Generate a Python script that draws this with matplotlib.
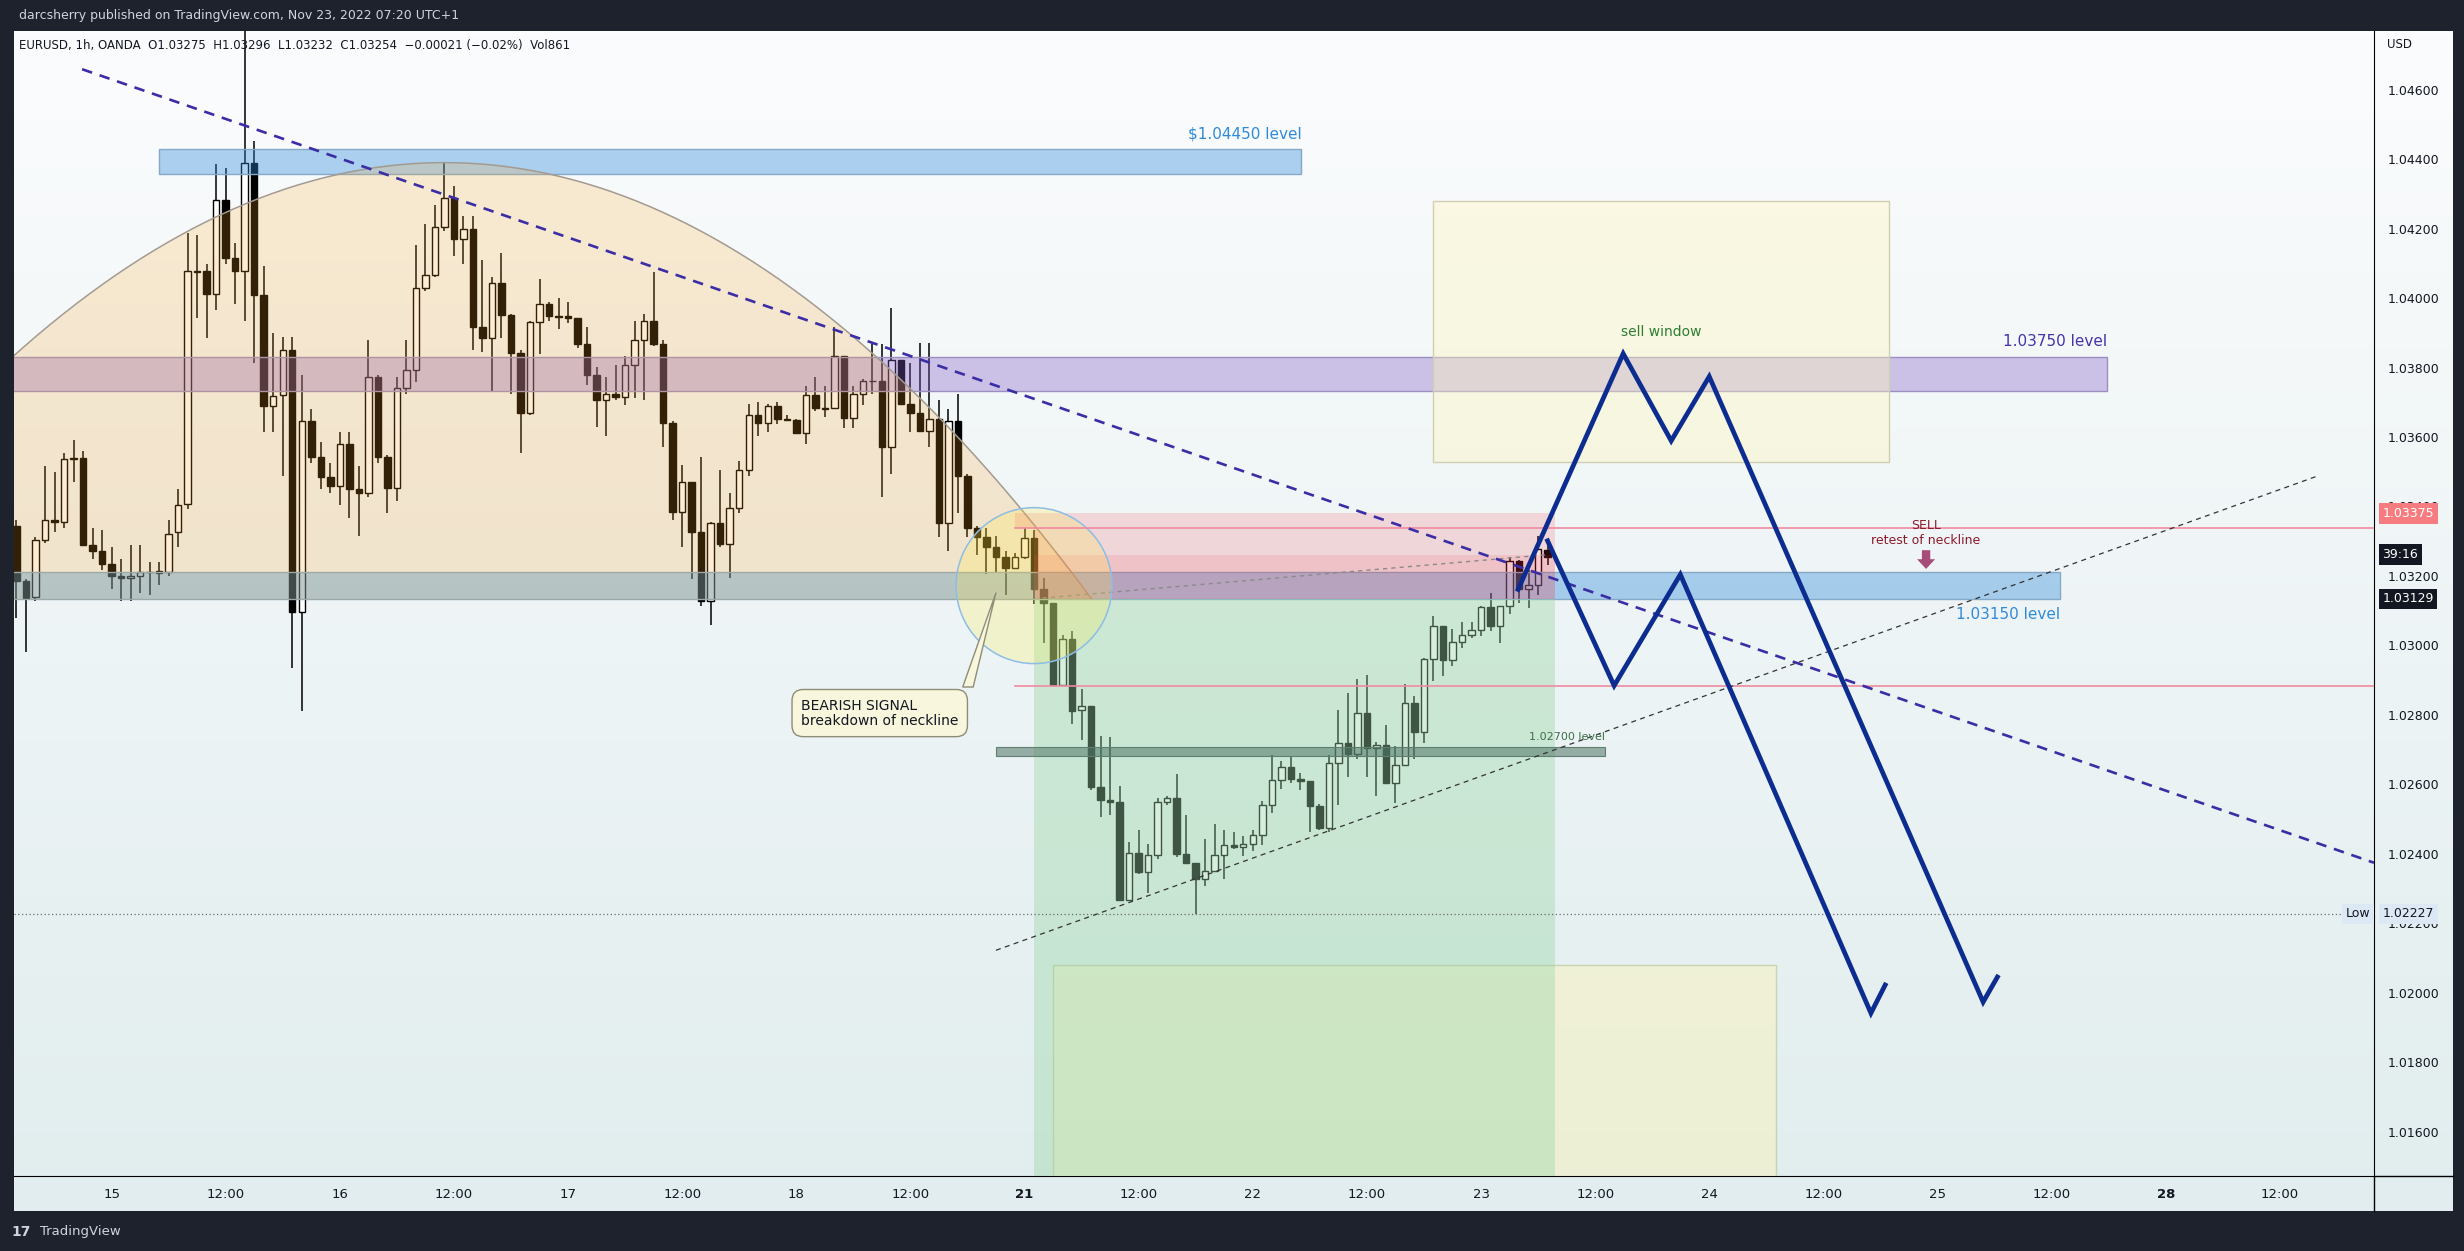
import matplotlib.pyplot as plt
import matplotlib.patches as mpatches
from matplotlib.lines import Line2D
import numpy as np

W, H = 2464, 1251

# EURUSD 1h candles, x = bar number (hours since Nov 15 00:00, weekend removed)
first_bar = -10
opens = [1.03344, 1.03184, 1.03138, 1.03303, 1.03360, 1.03355, 1.03537, 1.03539, 1.03289, 1.03272,
         1.03234, 1.03201, 1.03193, 1.03201, 1.03212, 1.03208, 1.03212, 1.03325, 1.03407, 1.04078,
         1.04078, 1.04012, 1.04283, 1.04115, 1.04078, 1.04390, 1.04008, 1.03689, 1.03722, 1.03850,
         1.03096, 1.03645, 1.03542, 1.03484, 1.03460, 1.03579, 1.03449, 1.03440, 1.03773, 1.03542,
         1.03454, 1.03740, 1.03792, 1.04030, 1.04065, 1.04206, 1.04288, 1.04170, 1.04200, 1.03917,
         1.03886, 1.04043, 1.03950, 1.03843, 1.03669, 1.03931, 1.03983, 1.03947, 1.03947, 1.03942,
         1.03869, 1.03779, 1.03707, 1.03724, 1.03715, 1.03806, 1.03880, 1.03933, 1.03867, 1.03641,
         1.03385, 1.03471, 1.03327, 1.03129, 1.03352, 1.03292, 1.03396, 1.03504, 1.03663, 1.03641,
         1.03689, 1.03652, 1.03649, 1.03612, 1.03722, 1.03682, 1.03682, 1.03832, 1.03656, 1.03724,
         1.03762, 1.03762, 1.03572, 1.03821, 1.03696, 1.03669, 1.03616, 1.03652, 1.03352, 1.03645,
         1.03487, 1.03338, 1.03311, 1.03283, 1.03255, 1.03224, 1.03255, 1.03310, 1.03162, 1.03121,
         1.02886, 1.03017, 1.02815, 1.02826, 1.02592, 1.02554, 1.02548, 1.02268, 1.02402, 1.02347,
         1.02396, 1.02548, 1.02561, 1.02398, 1.02372, 1.02328, 1.02350, 1.02396, 1.02424, 1.02418,
         1.02429, 1.02454, 1.02539, 1.02611, 1.02650, 1.02614, 1.02608, 1.02537, 1.02473, 1.02661,
         1.02718, 1.02688, 1.02804, 1.02705, 1.02713, 1.02605, 1.02655, 1.02835, 1.02751, 1.02960,
         1.03055, 1.02958, 1.03011, 1.03029, 1.03044, 1.03110, 1.03057, 1.03112, 1.03242, 1.03162,
         1.03173, 1.03275]
highs = [1.03360, 1.03190, 1.03311, 1.03515, 1.03498, 1.03553, 1.03592, 1.03559, 1.03338, 1.03333,
         1.03283, 1.03250, 1.03289, 1.03289, 1.03239, 1.03239, 1.03360, 1.03449, 1.04186, 1.04181,
         1.04098, 1.04385, 1.04374, 1.04159, 1.04800, 1.04451, 1.04093, 1.03900, 1.03889, 1.03889,
         1.03779, 1.03680, 1.03586, 1.03526, 1.03614, 1.03614, 1.03515, 1.03878, 1.03779, 1.03548,
         1.03773, 1.03878, 1.04153, 1.04214, 1.04269, 1.04390, 1.04324, 1.04236, 1.04236, 1.04109,
         1.04060, 1.04131, 1.03955, 1.03850, 1.03933, 1.04054, 1.03988, 1.03999, 1.03988, 1.03944,
         1.03917, 1.03801, 1.03773, 1.03806, 1.03834, 1.03933, 1.03955, 1.04076, 1.03878, 1.03647,
         1.03520, 1.03471, 1.03542, 1.03356, 1.03504, 1.03438, 1.03531, 1.03696, 1.03702, 1.03696,
         1.03702, 1.03663, 1.03652, 1.03746, 1.03773, 1.03746, 1.03917, 1.03834, 1.03746, 1.03768,
         1.03867, 1.03867, 1.03972, 1.03823, 1.03812, 1.03872, 1.03872, 1.03707, 1.03680, 1.03724,
         1.03493, 1.03344, 1.03338, 1.03316, 1.03272, 1.03266, 1.03338, 1.03332, 1.03195, 1.03123,
         1.03029, 1.03040, 1.02875, 1.02826, 1.02740, 1.02736, 1.02594, 1.02435, 1.02468, 1.02429,
         1.02561, 1.02567, 1.02630, 1.02512, 1.02374, 1.02443, 1.02487, 1.02468, 1.02462, 1.02451,
         1.02468, 1.02553, 1.02685, 1.02666, 1.02680, 1.02633, 1.02608, 1.02542, 1.02683, 1.02815,
         1.02864, 1.02903, 1.02914, 1.02721, 1.02771, 1.02710, 1.02890, 1.02853, 1.02963, 1.03085,
         1.03057, 1.03046, 1.03068, 1.03066, 1.03112, 1.03151, 1.03112, 1.03253, 1.03246, 1.03217,
         1.03316, 1.03296]
lows = [1.03080, 1.02980, 1.03129, 1.03294, 1.03327, 1.03338, 1.03471, 1.03289, 1.03250, 1.03217,
        1.03162, 1.03129, 1.03129, 1.03151, 1.03146, 1.03173, 1.03201, 1.03283, 1.03393, 1.03944,
        1.03884, 1.03966, 1.04098, 1.03983, 1.03933, 1.03812, 1.03614, 1.03614, 1.03487, 1.02936,
        1.02810, 1.03526, 1.03449, 1.03438, 1.03404, 1.03366, 1.03316, 1.03427, 1.03526, 1.03382,
        1.03416, 1.03724, 1.03757, 1.04021, 1.04060, 1.04192, 1.04120, 1.04098, 1.03850, 1.03845,
        1.03729, 1.03884, 1.03724, 1.03553, 1.03663, 1.03839, 1.03933, 1.03911, 1.03928, 1.03856,
        1.03751, 1.03630, 1.03603, 1.03707, 1.03691, 1.03713, 1.03707, 1.03862, 1.03570, 1.03360,
        1.03283, 1.03190, 1.03113, 1.03058, 1.03283, 1.03195, 1.03382, 1.03487, 1.03603, 1.03614,
        1.03636, 1.03647, 1.03608, 1.03581, 1.03674, 1.03658, 1.03680, 1.03625, 1.03625, 1.03691,
        1.03724, 1.03427, 1.03493, 1.03691, 1.03614, 1.03614, 1.03570, 1.03311, 1.03272, 1.03382,
        1.03311, 1.03261, 1.03206, 1.03211, 1.03145, 1.03222, 1.03250, 1.03118, 1.03007, 1.02886,
        1.02886, 1.02773, 1.02727, 1.02584, 1.02506, 1.02512, 1.02264, 1.02264, 1.02341, 1.02286,
        1.02385, 1.02539, 1.02391, 1.02369, 1.02227, 1.02306, 1.02347, 1.02328, 1.02413, 1.02394,
        1.02407, 1.02424, 1.02517, 1.02586, 1.02605, 1.02583, 1.02462, 1.02468, 1.02462, 1.02539,
        1.02622, 1.02672, 1.02622, 1.02567, 1.02600, 1.02545, 1.02655, 1.02672, 1.02718, 1.02897,
        1.02912, 1.02941, 1.02991, 1.03022, 1.03026, 1.03040, 1.03007, 1.03090, 1.03123, 1.03107,
        1.03145, 1.03232]
closes = [1.03184, 1.03135, 1.03303, 1.03360, 1.03355, 1.03537, 1.03539, 1.03289, 1.03272, 1.03234,
          1.03201, 1.03193, 1.03201, 1.03212, 1.03210, 1.03215, 1.03322, 1.03404, 1.04078, 1.04076,
          1.04012, 1.04283, 1.04115, 1.04078, 1.04390, 1.04008, 1.03689, 1.03718, 1.03850, 1.03096,
          1.03645, 1.03542, 1.03484, 1.03460, 1.03579, 1.03449, 1.03440, 1.03773, 1.03542, 1.03454,
          1.03740, 1.03792, 1.04030, 1.04065, 1.04206, 1.04288, 1.04170, 1.04200, 1.03917, 1.03886,
          1.04043, 1.03950, 1.03843, 1.03669, 1.03931, 1.03983, 1.03947, 1.03945, 1.03942, 1.03869,
          1.03779, 1.03707, 1.03724, 1.03715, 1.03806, 1.03880, 1.03933, 1.03867, 1.03641, 1.03385,
          1.03471, 1.03327, 1.03129, 1.03352, 1.03292, 1.03396, 1.03504, 1.03663, 1.03641, 1.03689,
          1.03652, 1.03649, 1.03612, 1.03722, 1.03682, 1.03680, 1.03832, 1.03656, 1.03724, 1.03762,
          1.03760, 1.03572, 1.03821, 1.03696, 1.03669, 1.03616, 1.03652, 1.03352, 1.03645, 1.03487,
          1.03338, 1.03311, 1.03283, 1.03255, 1.03224, 1.03253, 1.03310, 1.03162, 1.03123, 1.02886,
          1.03017, 1.02812, 1.02826, 1.02592, 1.02554, 1.02548, 1.02268, 1.02402, 1.02347, 1.02396,
          1.02548, 1.02561, 1.02398, 1.02372, 1.02328, 1.02350, 1.02396, 1.02424, 1.02418, 1.02429,
          1.02454, 1.02539, 1.02611, 1.02650, 1.02614, 1.02608, 1.02537, 1.02473, 1.02661, 1.02718,
          1.02688, 1.02804, 1.02705, 1.02713, 1.02605, 1.02655, 1.02835, 1.02751, 1.02960, 1.03055,
          1.02958, 1.03011, 1.03029, 1.03044, 1.03110, 1.03057, 1.03112, 1.03242, 1.03162, 1.03173,
          1.03277, 1.03254]

x_ticks = [0, 12, 24, 36, 48, 60, 72, 84, 96, 108, 120, 132, 144, 156, 168, 180, 192, 204, 216, 228]
x_labels = ['15', '12:00', '16', '12:00', '17', '12:00', '18', '12:00', '21', '12:00',
            '22', '12:00', '23', '12:00', '24', '12:00', '25', '12:00', '28', '12:00']
y_ticks = [1.016, 1.018, 1.020, 1.022, 1.024, 1.026, 1.028, 1.030,
           1.032, 1.034, 1.036, 1.038, 1.040, 1.042, 1.044, 1.046]

# drawings: (x0, x1, y0, y1)
top_zone = (4.95, 125.1, 1.04356, 1.04428)
purple_zone = (-11, 209.8, 1.03731, 1.03831)
neck_zone = (-11, 204.9, 1.03133, 1.03210)
zone_2700 = (93.0, 157.0, 1.02682, 1.02707)
sell_box = (139.0, 186.9, 1.03528, 1.04279)
low_box = (99.0, 175.0, 1.0100, 1.0208)
pos_x = (97.0, 151.8)
ray_start = 95.0
entry, stop, now_price = 1.03134, 1.03380, 1.03261
red_rays = [1.03339, 1.02884]
low_price = 1.02227
down_trend = ([-3.1, 237.9], [1.04659, 1.02374])
up_trend = ([93.0, 232.0], [1.02122, 1.03488])
entry_link = ([97.9, 151.0], [1.03136, 1.03261])
arc_pts = ([-33.1, 35.0, 103.1], [1.03132, 1.0439, 1.03132])
zig1_x = [147.9, 158.95, 164.0, 168.0, 196.8, 198.3]
zig1_y = [1.03161, 1.03840, 1.03589, 1.03774, 1.01973, 1.02045]
zig2_x = [151.0, 158.0, 164.96, 185.0, 186.5]
zig2_y = [1.03301, 1.02884, 1.03204, 1.01941, 1.02022]

fig = plt.figure(figsize=(W / 100, H / 100), dpi=100, facecolor='#1e222d')


def fbox(x0, y0, x1, y1):
    # pixel box (top-left origin) -> figure rect
    return [x0 / W, 1 - y1 / H, (x1 - x0) / W, (y1 - y0) / H]


# light chart background incl. price / time scales
bg = fig.add_axes(fbox(14, 31, 2453, 1211))
grad = np.linspace(0, 1, 256).reshape(-1, 1)
top_c = np.array([251, 252, 253]) / 255
bot_c = np.array([225, 237, 238]) / 255
img = top_c + (bot_c - top_c) * grad[:, :, None]
bg.imshow(img, aspect='auto', extent=[0, 1, 0, 1])
bg.axis('off')

ax = fig.add_axes(fbox(14, 31, 2374, 1176))
ax.set_facecolor('none')
ax.set_xlim(-10.26, 237.9)
ax.set_ylim(1.01472, 1.04769)

# candles
idx = np.arange(first_bar, first_bar + len(opens))
o = np.array(opens)
h = np.array(highs)
l = np.array(lows)
c = np.array(closes)
up = c >= o
ax.vlines(idx, l, h, color='black', lw=1.1, zorder=2)
lo = np.minimum(o, c)
hgt = np.maximum(np.abs(c - o), 0.00002)
ax.bar(idx[up], hgt[up], bottom=lo[up], width=0.68, color='white', edgecolor='black', lw=1.0, zorder=3)
ax.bar(idx[~up], hgt[~up], bottom=lo[~up], width=0.68, color='black', edgecolor='black', lw=1.0, zorder=3)


def zone(z, fc, alpha, ec=None, zo=4, lw=1.0):
    x0, x1, y0, y1 = z
    r = mpatches.Rectangle((x0, y0), x1 - x0, y1 - y0, facecolor=fc, alpha=alpha,
                           edgecolor='none', zorder=zo)
    ax.add_patch(r)
    if ec is not None:
        ax.add_patch(mpatches.Rectangle((x0, y0), x1 - x0, y1 - y0, facecolor='none',
                                        edgecolor=ec, lw=lw, zorder=zo))


zone(neck_zone, '#2f8ad9', 0.38, ec='#86a9c7', zo=4)
zone(top_zone, '#2f8ad9', 0.38, ec='#86a9c7', zo=4)
zone(purple_zone, '#835cc4', 0.35, ec='#9c8fc0', zo=4)

# rounded top (quadratic curve through three anchors)
t = np.linspace(0, 1, 200)
ax_x, ax_y = arc_pts
cy = 2 * ax_y[1] - (ax_y[0] + ax_y[2]) / 2
arc_x = (1 - t) ** 2 * ax_x[0] + 2 * (1 - t) * t * ax_x[1] + t ** 2 * ax_x[2]
arc_y = (1 - t) ** 2 * ax_y[0] + 2 * (1 - t) * t * cy + t ** 2 * ax_y[2]
ax.fill_between(arc_x, arc_y, ax_y[0], color='#fca428', alpha=0.2, lw=0, zorder=5)
ax.plot(arc_x, arc_y, color='#a39a90', lw=1.1, zorder=5)

# yellow boxes
zone(sell_box, '#fff6bf', 0.4, ec='#cfcfb4', zo=5)
zone(low_box, '#fff4b0', 0.4, ec='#c9d3b0', zo=5)

# short position tool
zone((ray_start, pos_x[0], red_rays[0], stop), '#f23645', 0.16, zo=5)
zone((pos_x[0], pos_x[1], entry, stop), '#f23645', 0.16, zo=5)
zone((pos_x[0], pos_x[1], entry, now_price), '#f23645', 0.12, zo=5)
zone((pos_x[0], pos_x[1], 1.0100, entry), '#9ad6a6', 0.4, zo=5)
ax.plot(entry_link[0], entry_link[1], color='#8a8a8a', lw=1.0, dashes=(3, 3), zorder=6)

zone(zone_2700, '#4f7565', 0.55, ec='#5f8070', zo=6, lw=0.8)

# neckline break circle
ax.add_patch(mpatches.Ellipse((97.0, 1.03172), 16.4, 0.00449, facecolor='#ffeb3b', alpha=0.22,
                              edgecolor='none', zorder=6))
ax.add_patch(mpatches.Ellipse((97.0, 1.03172), 16.4, 0.00449, facecolor='none',
                              edgecolor='#8dbde6', lw=1.1, zorder=6))

# horizontal rays
for p in red_rays:
    ax.plot([ray_start, 240], [p, p], color='#f08aa0', lw=1.2, zorder=6)
ax.axhline(low_price, color='#6a6a6a', lw=0.9, ls=(0, (1, 2)), zorder=6)

# trend lines
ax.plot(down_trend[0], down_trend[1], color='#3b2da5', lw=1.9, dashes=(4, 3), zorder=7)
ax.plot(up_trend[0], up_trend[1], color='#333333', lw=0.9, dashes=(4, 3.5), zorder=7)

# projected path
ax.plot(zig1_x, zig1_y, color='#0c2d8f', lw=3.4, solid_joinstyle='miter', zorder=8)
ax.plot(zig2_x, zig2_y, color='#0c2d8f', lw=3.4, solid_joinstyle='miter', zorder=8)

# labels
ax.text(top_zone[1], 1.04473, '$1.04450 level', color='#2f8ad9', fontsize=11, ha='right', va='center', zorder=9)
ax.text(purple_zone[1], 1.03876, '1.03750 level', color='#4433aa', fontsize=11, ha='right', va='center', zorder=9)
ax.text(neck_zone[1], 1.03090, '1.03150 level', color='#2f8ad9', fontsize=11, ha='right', va='center', zorder=9)
ax.text(162.9, 1.03903, 'sell window', color='#2e7d32', fontsize=10, ha='center', va='center', zorder=9)
ax.text(zone_2700[1], 1.02736, '1.02700 level', color='#3e6e48', fontsize=8, ha='right', va='center', zorder=9)
ax.text(190.8, 1.03346, 'SELL', color='#8b1a2b', fontsize=9, ha='center', va='center', zorder=9)
ax.text(190.8, 1.03302, 'retest of neckline', color='#8b1a2b', fontsize=9, ha='center', va='center', zorder=9)
ax.annotate('', xy=(190.8, 1.03212), xytext=(190.8, 1.03282), zorder=9,
            arrowprops=dict(arrowstyle='simple,head_width=1.3,head_length=0.7,tail_width=0.6',
                            color='#a64d79', lw=0))

# callout
ax.add_patch(mpatches.Polygon([(89.5, 1.02880), (90.6, 1.02880), (93.0, 1.03152)], closed=True,
                              facecolor='#f8f6dc', edgecolor='#8f8c78', lw=1.0, zorder=9))
ax.text(72.5, 1.02805, 'BEARISH SIGNAL\nbreakdown of neckline', color='#131722', fontsize=10,
        ha='left', va='center', linespacing=1.1, zorder=10,
        bbox=dict(boxstyle='round,pad=0.65,rounding_size=0.8', fc='#f8f6dc', ec='#8f8c78', lw=1.0))

# axes styling
for s in ['top', 'left']:
    ax.spines[s].set_visible(False)
ax.spines['right'].set_color('black')
ax.spines['bottom'].set_color('black')
ax.yaxis.tick_right()
ax.set_yticks(y_ticks)
ax.set_yticklabels(['%.5f' % v for v in y_ticks])
ax.tick_params(axis='y', length=0, pad=9.5, labelsize=9, labelcolor='#131722')
ax.set_xticks(x_ticks)
ax.set_xticklabels(x_labels)
ax.tick_params(axis='x', length=0, pad=9, labelsize=9.5, labelcolor='#131722')
for lab in ax.get_xticklabels():
    if lab.get_text() in ('21', '28'):
        lab.set_fontweight('bold')

# price scale badges
ytr = ax.get_yaxis_transform()
ax.text(1.0035, 1.03380, '1.03375', transform=ytr, color='white', fontsize=9, ha='left', va='center',
        clip_on=False, zorder=11, bbox=dict(boxstyle='square,pad=0.3', fc='#f77c80', ec='none'))
ax.text(1.0035, 1.03262, '39:16', transform=ytr, color='white', fontsize=9, ha='left', va='center',
        clip_on=False, zorder=11, bbox=dict(boxstyle='square,pad=0.3', fc='#131722', ec='none'))
ax.text(1.0035, 1.03134, '1.03129', transform=ytr, color='white', fontsize=9, ha='left', va='center',
        clip_on=False, zorder=11, bbox=dict(boxstyle='square,pad=0.3', fc='#131722', ec='none'))
ax.text(1.0035, low_price, '1.02227', transform=ytr, color='#131722', fontsize=9, ha='left', va='center',
        clip_on=False, zorder=11, bbox=dict(boxstyle='square,pad=0.3', fc='#dde8f5', ec='none'))
ax.text(0.9985, low_price, 'Low', transform=ytr, color='#131722', fontsize=9, ha='right', va='center',
        clip_on=False, zorder=11, bbox=dict(boxstyle='square,pad=0.3', fc='#dde8f5', ec='none'))

# separators in the scale corner
fig.add_artist(Line2D([2374 / W, 2374 / W], [1 - 1176 / H, 1 - 1211 / H], color='black', lw=1))
fig.add_artist(Line2D([2374 / W, 2453 / W], [1 - 1176 / H, 1 - 1176 / H], color='black', lw=1))

# header / footer texts
fig.text(19 / W, 1 - 15 / H, 'darcsherry published on TradingView.com, Nov 23, 2022 07:20 UTC+1',
         color='#d1d4dc', fontsize=9, va='center')
fig.text(19 / W, 1 - 45 / H,
         'EURUSD, 1h, OANDA  O1.03275  H1.03296  L1.03232  C1.03254  \u22120.00021 (\u22120.02%)  Vol861',
         color='#131722', fontsize=8.5, va='center')
fig.text(2387 / W, 1 - 45 / H, 'USD', color='#131722', fontsize=8.5, va='center')
fig.text(11 / W, 1 - 1232 / H, '17', color='#d1d4dc', fontsize=10, weight='bold', va='center')
fig.text(40 / W, 1 - 1232 / H, 'TradingView', color='#d1d4dc', fontsize=9.5, va='center')

fig.savefig('out.png', dpi=100, facecolor=fig.get_facecolor())
